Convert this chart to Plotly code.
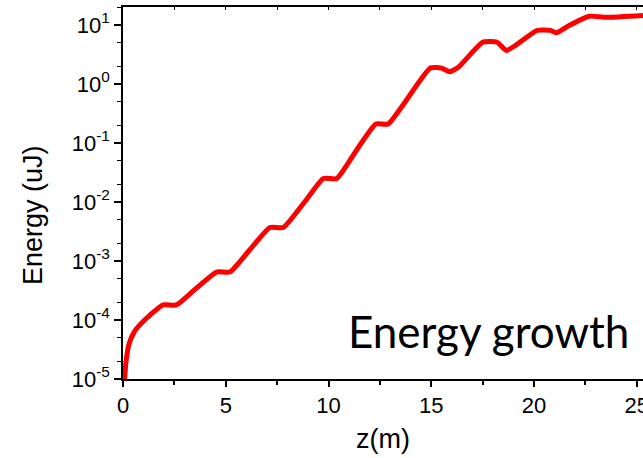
import plotly.graph_objects as go

# z positions (m)
z_m = [0.08, 0.15, 0.3, 0.55, 0.85, 1.3, 1.95, 2.6, 3.5, 4.55, 5.2, 6.2, 7.15, 7.8,
       8.9, 9.75, 10.4, 11.4, 12.3, 12.9, 14.95, 15.5, 15.9, 16.3, 17.5, 18.2,
       18.65, 19.1, 20.15, 20.8, 21.1, 21.75, 22.7, 23.5, 25.3]
# energy (uJ)
energy_uJ = [1.0e-5, 2.0e-5, 4.0e-5, 6.3e-5, 8.5e-5, 1.2e-4, 1.8e-4, 1.8e-4, 3.3e-4,
             6.5e-4, 6.5e-4, 1.6e-3, 3.7e-3, 3.7e-3, 1.07e-2, 2.5e-2, 2.5e-2, 7.9e-2,
             0.21, 0.21, 1.86, 1.86, 1.62, 1.9, 5.1, 5.1, 3.7, 4.5, 8.1, 8.1,
             7.4, 10.0, 14.1, 13.5, 14.5]

x_ticks = [0, 5, 10, 15, 20, 25]
x_ticklabels = ["0", "5", "10", "15", "20", "25"]
y_ticks = [1e-5, 1e-4, 1e-3, 1e-2, 1e-1, 1, 10]
y_ticklabels = ["10<sup>-5</sup>", "10<sup>-4</sup>", "10<sup>-3</sup>", "10<sup>-2</sup>",
                "10<sup>-1</sup>", "10<sup>0</sup>", "10<sup>1</sup>"]

fig = go.Figure()
fig.add_trace(go.Scatter(x=z_m, y=energy_uJ, mode="lines",
                         line=dict(color="#ff0000", width=5, shape="spline", smoothing=0.5),
                         showlegend=False, hoverinfo="skip"))
# invisible trace for top mirrored axis
fig.add_trace(go.Scatter(x=[0], y=[1e-5], xaxis="x2", mode="markers",
                         marker=dict(opacity=0), showlegend=False, hoverinfo="skip"))

font_main = "Arial, Liberation Sans, sans-serif"
fig.update_layout(
    width=643, height=458,
    margin=dict(l=123, r=0, t=7, b=79, autoexpand=False),
    paper_bgcolor="white", plot_bgcolor="white",
    font=dict(family=font_main, color="black"),
    xaxis=dict(range=[0, 25.3], tickvals=x_ticks, ticktext=x_ticklabels,
               ticklabeloverflow="allow", automargin=False,
               showgrid=False, zeroline=False, showline=True, linecolor="black", linewidth=1.5,
               ticks="outside", ticklen=6, tickwidth=1.5, tickcolor="black",
               minor=dict(tickvals=[2.5, 7.5, 12.5, 17.5, 22.5], ticks="outside", ticklen=4,
                          tickwidth=1.5, tickcolor="black"),
               tickfont=dict(size=22), title=dict(text="z(m)", font=dict(size=27), standoff=12)),
    xaxis2=dict(range=[0, 25.3], overlaying="x", side="top", anchor="y", automargin=False,
                tickvals=[0, 2.5, 5, 7.5, 10, 12.5, 15, 17.5, 20, 22.5, 25], showticklabels=False,
                showgrid=False, zeroline=False, showline=True, linecolor="black", linewidth=1.5,
                ticks="inside", ticklen=3, tickwidth=1.2, tickcolor="black"),
    yaxis=dict(type="log", range=[-5, 1.305], tickvals=y_ticks, ticktext=y_ticklabels,
               automargin=False,
               showgrid=False, zeroline=False, showline=True, linecolor="black", linewidth=1.5,
               ticks="outside", ticklen=7, tickwidth=1.5, tickcolor="black",
               minor=dict(ticks="outside", ticklen=4, tickwidth=1.2, tickcolor="black",
                          showgrid=False),
               tickfont=dict(size=22)),
    annotations=[
        dict(text="Energy growth", x=0.702, y=0.13, xref="paper", yref="paper",
             xanchor="center", yanchor="middle", showarrow=False,
             font=dict(family="Lato, Open Sans, sans-serif", size=44, color="black")),
        dict(text="Energy (uJ)", x=-0.173, y=0.441, xref="paper", yref="paper",
             xanchor="center", yanchor="middle", showarrow=False, textangle=-90,
             font=dict(family=font_main, size=27, color="black")),
    ],
)

fig.write_html("out.html")
